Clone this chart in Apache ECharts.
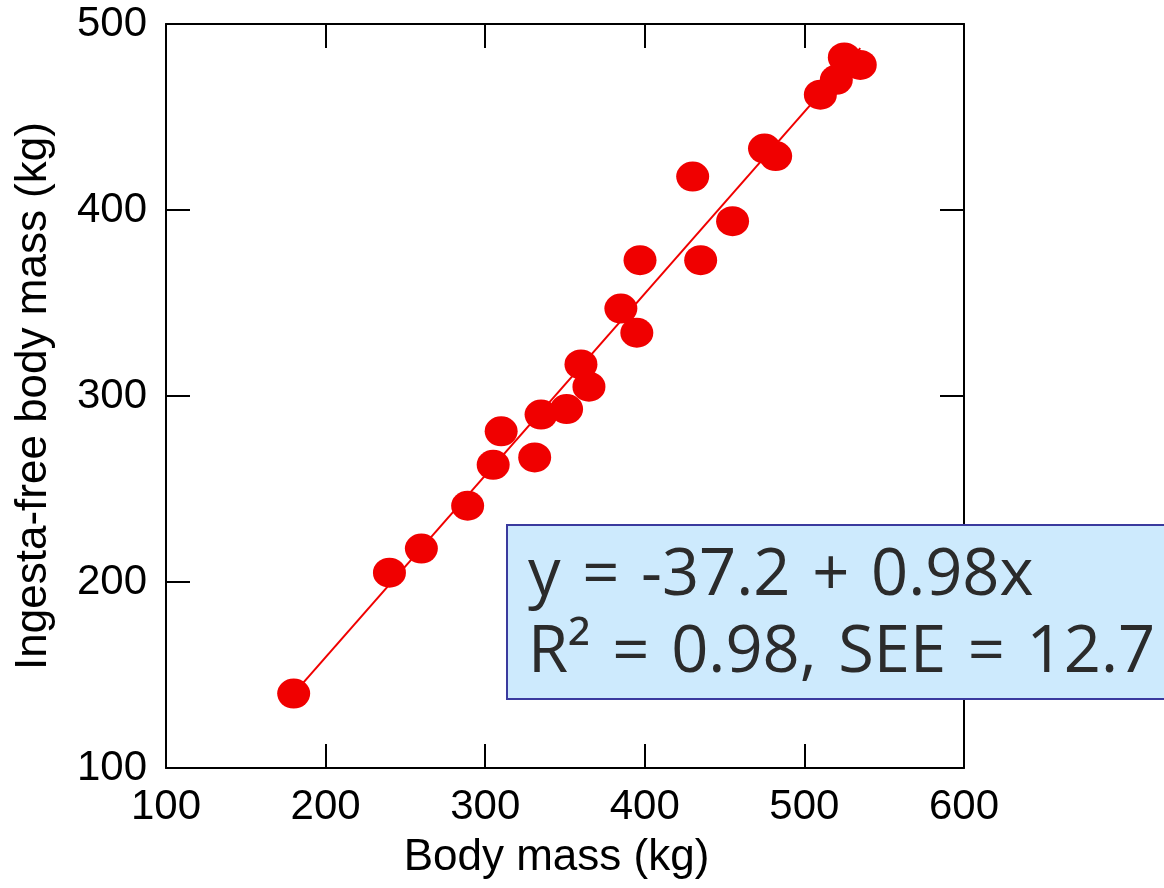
<!DOCTYPE html>
<html>
<head>
<meta charset="utf-8">
<script src="https://cdn.jsdelivr.net/npm/echarts@6/dist/echarts.min.js"></script>
<style>
html,body{margin:0;padding:0;background:#fff;}
#chart{width:1164px;height:888px;}
</style>
</head>
<body>
<div id="chart"></div>
<script>
// Body mass (kg) and ingesta-free body mass (kg)
var bodyMass = [180, 240, 260, 289, 305, 310, 331, 335, 351, 360, 365, 385, 395, 397, 435, 430, 455, 475, 482, 510, 520, 525, 535];
var ingestaFree = [140, 205, 218, 241, 263, 281, 267, 290, 293, 317, 305, 347, 334, 373, 373, 418, 394, 433, 429, 462, 470, 482, 478];
// Regression line endpoints: y = -37.2 + 0.98x
var fitX = [180, 535];
var fitY = [140, 487];
var xTicks = [100, 200, 300, 400, 500, 600];
var yTicks = [100, 200, 300, 400, 500];
var SP = '\u2004';
var eqLine1 = ['y', '=', '-37.2', '+', '0.98x'].join(SP);
var eqLine2 = ['R\u00B2', '=', '0.98,', 'SEE', '=', '12.7'].join(SP);

var chart = echarts.init(document.getElementById('chart'), null, {renderer: 'canvas'});
var font = "'Liberation Sans', Arial, sans-serif";
var axisLine = {show: true, lineStyle: {color: '#000', width: 2}};
var axisTick = {show: true, inside: true, length: 24, lineStyle: {color: '#000', width: 2}};

var points = bodyMass.map(function (x, i) { return [x, ingestaFree[i]]; });
var fit = fitX.map(function (x, i) { return [x, fitY[i]]; });
var boxFont = "65px 'Open Sans', 'Noto Sans', sans-serif";

chart.setOption({
  animation: false,
  backgroundColor: '#fff',
  grid: {left: 166, right: 200, top: 24, bottom: 120, containLabel: false},
  xAxis: [{
    type: 'value', position: 'bottom', min: xTicks[0], max: xTicks[xTicks.length - 1], interval: 100,
    axisLine: axisLine, axisTick: axisTick, splitLine: {show: false},
    axisLabel: {fontFamily: font, fontSize: 42, color: '#000', margin: 18},
    name: 'Body mass (kg)', nameLocation: 'middle', nameGap: 68,
    nameTextStyle: {fontFamily: font, fontSize: 44, color: '#000', padding: [0, 17, 0, 0]}
  }, {
    type: 'value', position: 'top', min: xTicks[0], max: xTicks[xTicks.length - 1], interval: 100,
    axisLine: axisLine, axisTick: axisTick, splitLine: {show: false}, axisLabel: {show: false}
  }],
  yAxis: [{
    type: 'value', position: 'left', min: yTicks[0], max: yTicks[yTicks.length - 1], interval: 100,
    axisLine: axisLine, axisTick: axisTick, splitLine: {show: false},
    axisLabel: {fontFamily: font, fontSize: 42, color: '#000', margin: 19},
    name: 'Ingesta-free body mass (kg)', nameLocation: 'middle', nameGap: 110,
    nameTextStyle: {fontFamily: font, fontSize: 44, color: '#000'}
  }, {
    type: 'value', position: 'right', min: yTicks[0], max: yTicks[yTicks.length - 1], interval: 100,
    axisLine: axisLine, axisTick: axisTick, splitLine: {show: false}, axisLabel: {show: false}
  }],
  series: [{
    type: 'line', data: fit, symbol: 'none', z: 2,
    lineStyle: {color: '#f00000', width: 2}
  }, {
    type: 'scatter', data: points, symbol: 'circle', symbolSize: [33, 30], z: 3,
    itemStyle: {color: '#f00000', opacity: 1}
  }],
  graphic: [{
    type: 'rect', z: 100, zlevel: 1, shape: {x: 507, y: 525, width: 700, height: 174},
    style: {fill: '#cdeafd', stroke: '#3a3a9e', lineWidth: 2}
  }, {
    type: 'text', z: 101, zlevel: 1, x: 528, y: 576,
    style: {text: eqLine1, font: boxFont, fill: '#2b2b2b', verticalAlign: 'middle'}
  }, {
    type: 'text', z: 101, zlevel: 1, x: 528, y: 653,
    style: {text: eqLine2, font: boxFont, fill: '#2b2b2b', verticalAlign: 'middle'}
  }]
});
</script>
</body>
</html>
